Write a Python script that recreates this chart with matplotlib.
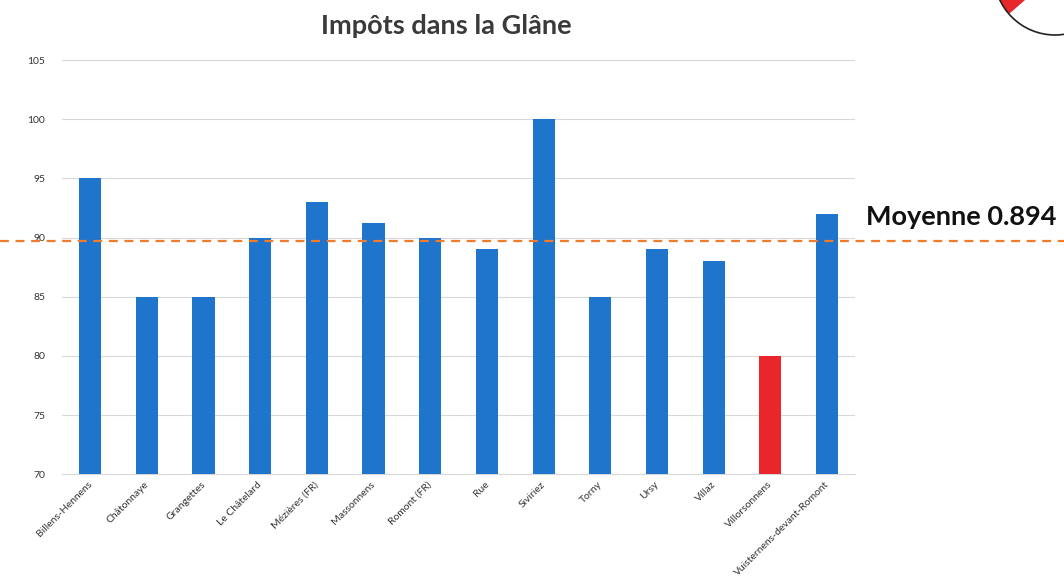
import matplotlib
matplotlib.use('Agg')
import matplotlib.pyplot as plt
import matplotlib.transforms as mtransforms
from matplotlib.patches import Circle, Wedge

communes = ['Billens-Hennens', 'Châtonnaye', 'Grangettes', 'Le Châtelard', 'Mézières (FR)',
            'Massonnens', 'Romont (FR)', 'Rue', 'Siviriez', 'Torny', 'Ursy', 'Villaz',
            'Villorsonnens', 'Vuisternens-devant-Romont']
impots = [95, 85, 85, 90, 93, 91.2, 90, 89, 100, 85, 89, 88, 80, 92]
moyenne = 89.7
highlight = 'Villorsonnens'

blue = '#1f74cc'
red = '#e8262b'
colors = [red if c == highlight else blue for c in communes]

plt.rcParams['font.family'] = ['Lato', 'DejaVu Sans']

fig = plt.figure(figsize=(10.64, 5.79), dpi=100)
ax = fig.add_axes([0.058, 0.181, 0.746, 0.715])

ax.bar(range(len(communes)), impots, width=0.39, color=colors, zorder=3)
ax.set_ylim(70, 105)
ax.set_xlim(-0.5, len(communes) - 0.5)
ax.set_yticks(range(70, 106, 5))
ax.yaxis.grid(True, color='#d8d8d8', linewidth=0.8, zorder=0)
ax.tick_params(axis='both', length=0, labelsize=7.5, colors='#333333')
ax.tick_params(axis='y', pad=12)
ax.tick_params(axis='x', pad=4)
ax.set_xticks(range(len(communes)))
ax.set_xticklabels(communes, rotation=45, ha='right', rotation_mode='anchor', fontsize=7.5)
shift = mtransforms.ScaledTranslation(-2 / 72, 0, fig.dpi_scale_trans)
for lab in ax.get_xticklabels():
    lab.set_transform(lab.get_transform() + shift)
for s in ['top', 'right', 'left']:
    ax.spines[s].set_visible(False)
ax.spines['bottom'].set_color('#d8d8d8')

# mean line spanning the whole figure width
ax.axhline(moyenne, xmin=-0.078, xmax=1.27, color='#f07c2c', linestyle=(0, (4, 3)),
           linewidth=1.6, clip_on=False, zorder=4)
fig.text(0.8135, 0.625, 'Moyenne 0.894', fontsize=19.5, fontweight='bold', color='#111111',
         va='center', ha='left')

fig.text(0.419, 0.955, 'Impôts dans la Glâne', fontsize=19.5, fontweight='bold',
         color='#3a3a3a', ha='center', va='center')

# logo in the corner
tr = fig.dpi_scale_trans
fig.add_artist(Wedge((10.55, 6.05), 0.61, 175, 221, facecolor=red, edgecolor='none', transform=tr))
fig.add_artist(Circle((10.55, 6.05), 0.61, facecolor='none', edgecolor='#222222', linewidth=1.2, transform=tr))

fig.savefig('out.png', dpi=100)
